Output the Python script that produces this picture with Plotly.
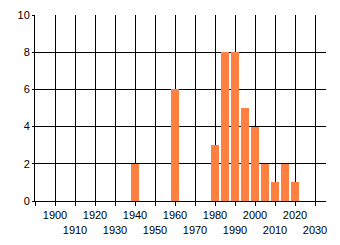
import plotly.graph_objects as go

years = [1940, 1960, 1980, 1985, 1990, 1995, 2000, 2005, 2010, 2015, 2020]
counts = [2, 6, 3, 8, 8, 5, 4, 2, 1, 2, 1]

tick_years = list(range(1890, 2031, 10))
tick_text = ["" if y == 1890 else (str(y) if (y // 10) % 2 == 0 else "<br>" + str(y)) for y in tick_years]

fig = go.Figure(go.Bar(x=years, y=counts, width=4, marker=dict(color="#FF8040", line=dict(width=0))))

fig.update_layout(
    width=340, height=245,
    margin=dict(l=35, r=14, t=15, b=44),
    paper_bgcolor="white", plot_bgcolor="white",
    font=dict(family="Liberation Sans", size=11, color="black"),
    showlegend=False,
    bargap=0,
)
fig.update_xaxes(
    range=[1890, 2035.5], tickvals=tick_years, ticktext=tick_text, tickangle=0,
    showgrid=True, gridcolor="black", gridwidth=1,
    showline=True, linecolor="black", linewidth=1,
    ticks="outside", ticklen=4, tickcolor="black", zeroline=False, automargin=False,
)
fig.update_yaxes(
    range=[0, 10], tickvals=[0, 2, 4, 6, 8, 10],
    showgrid=True, gridcolor="black", gridwidth=1,
    showline=True, linecolor="black", linewidth=1,
    ticks="outside", ticklen=2, tickcolor="black", zeroline=False, automargin=False,
)
fig.write_html("out.html")
